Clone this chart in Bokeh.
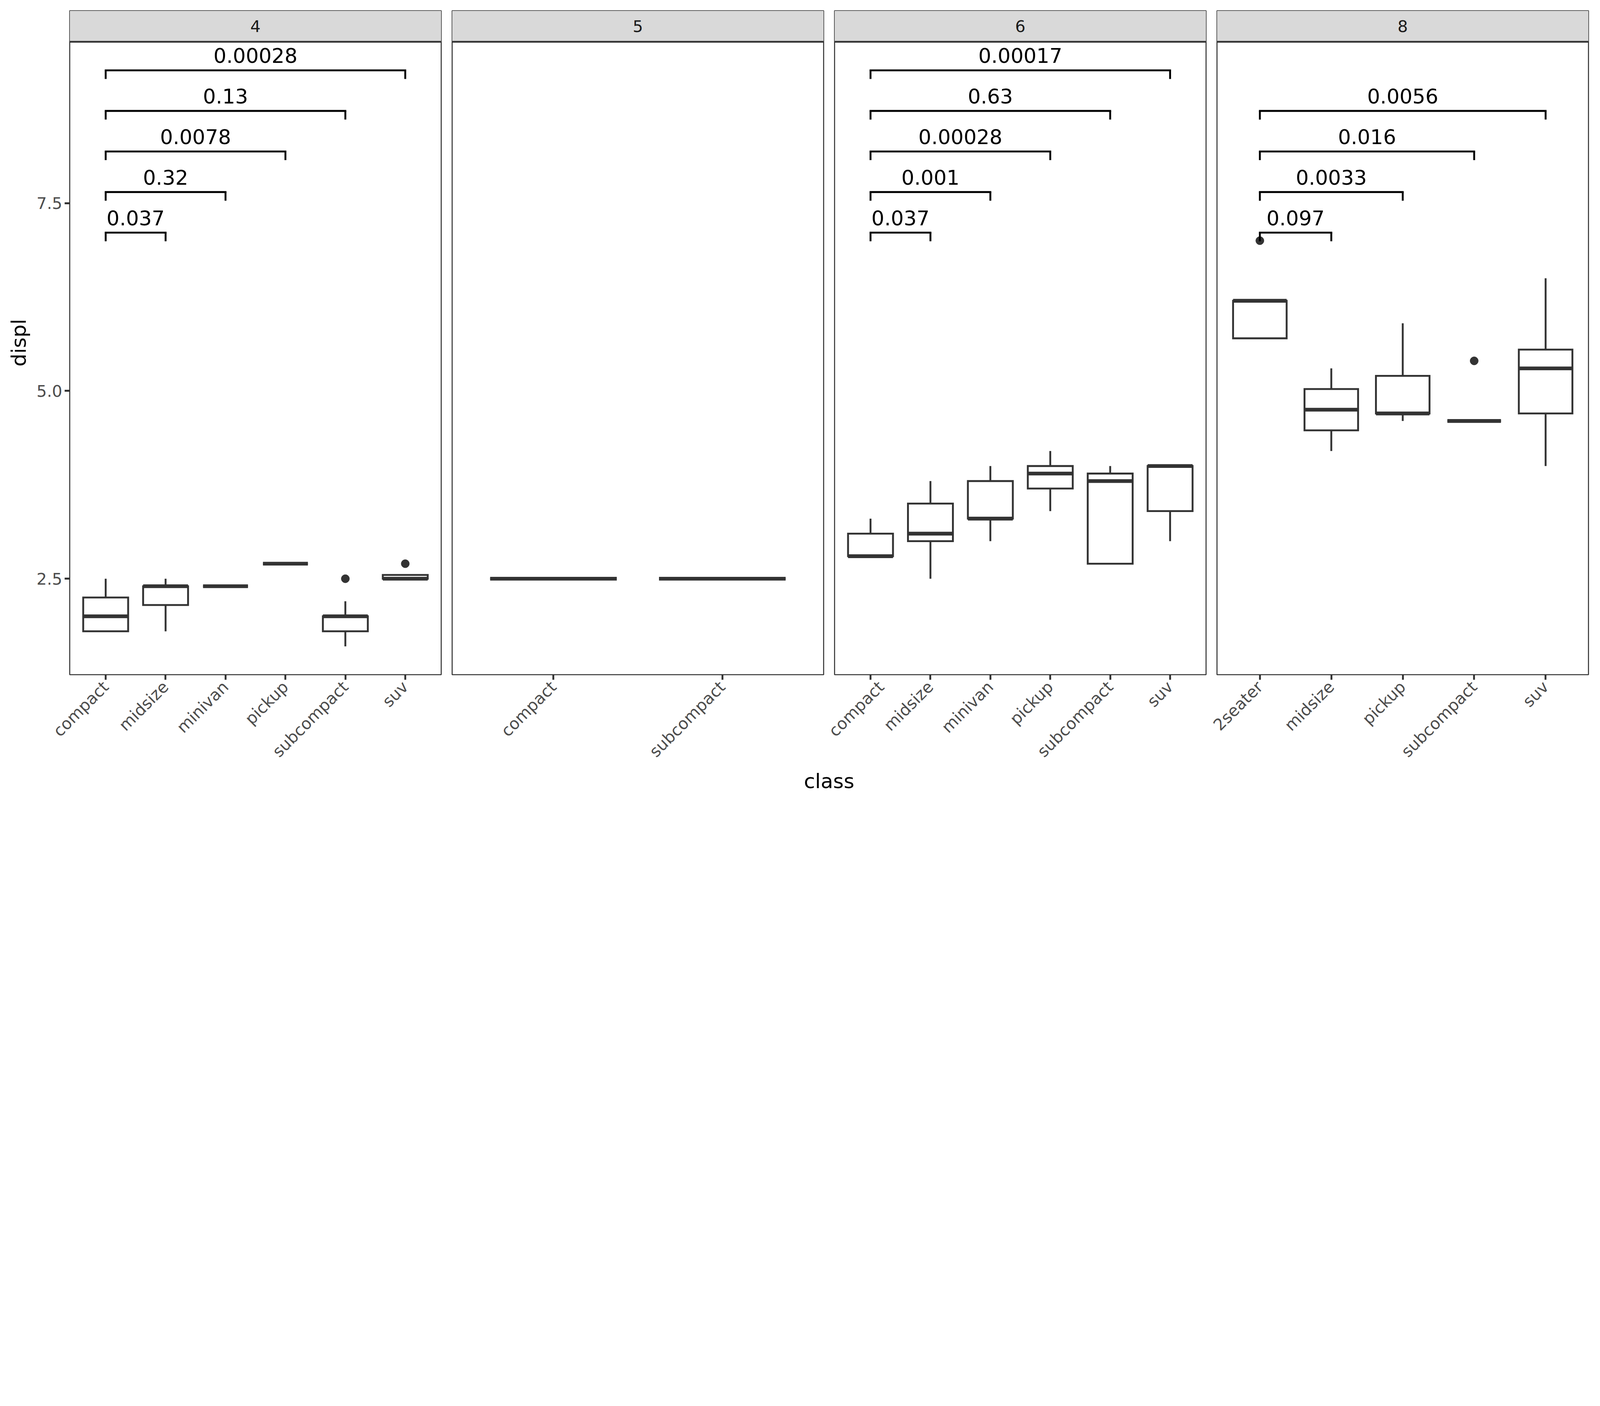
import math
from bokeh.plotting import figure
from bokeh.models import (ColumnDataSource, FactorRange, Range1d, FixedTicker,
                          BoxAnnotation, Span, Label)
from bokeh.layouts import row, column
from bokeh.transform import dodge
from bokeh.core.properties import value
from bokeh.embed import file_html
from bokeh.resources import INLINE

# ---------------- data ----------------
panel_names = ["4", "5", "6", "8"]

classes_4 = ["compact", "midsize", "minivan", "pickup", "subcompact", "suv"]
lower_4 = [1.8, 1.8, 2.4, 2.7, 1.6, 2.5]
q1_4 = [1.8, 2.15, 2.4, 2.7, 1.8, 2.5]
med_4 = [2.0, 2.4, 2.4, 2.7, 2.0, 2.5]
q3_4 = [2.25, 2.4, 2.4, 2.7, 2.0, 2.55]
upper_4 = [2.5, 2.5, 2.4, 2.7, 2.2, 2.55]
out_cls_4 = ["subcompact", "suv"]
out_val_4 = [2.5, 2.7]

classes_5 = ["compact", "subcompact"]
lower_5 = [2.5, 2.5]
q1_5 = [2.5, 2.5]
med_5 = [2.5, 2.5]
q3_5 = [2.5, 2.5]
upper_5 = [2.5, 2.5]
out_cls_5 = []
out_val_5 = []

classes_6 = ["compact", "midsize", "minivan", "pickup", "subcompact", "suv"]
lower_6 = [2.8, 2.5, 3.0, 3.4, 2.7, 3.0]
q1_6 = [2.8, 3.0, 3.3, 3.7, 2.7, 3.4]
med_6 = [2.8, 3.1, 3.3, 3.9, 3.8, 4.0]
q3_6 = [3.1, 3.5, 3.8, 4.0, 3.9, 4.0]
upper_6 = [3.3, 3.8, 4.0, 4.2, 4.0, 4.0]
out_cls_6 = []
out_val_6 = []

classes_8 = ["2seater", "midsize", "pickup", "subcompact", "suv"]
lower_8 = [5.7, 4.2, 4.6, 4.6, 4.0]
q1_8 = [5.7, 4.475, 4.7, 4.6, 4.7]
med_8 = [6.2, 4.75, 4.7, 4.6, 5.3]
q3_8 = [6.2, 5.025, 5.2, 4.6, 5.55]
upper_8 = [6.2, 5.3, 5.9, 4.6, 6.5]
out_cls_8 = ["2seater", "subcompact"]
out_val_8 = [7.0, 5.4]

# significance brackets (reference group vs. others)
ref_4 = "compact"
tgt_4 = ["midsize", "minivan", "pickup", "subcompact", "suv"]
p_4 = ["0.037", "0.32", "0.0078", "0.13", "0.00028"]

ref_6 = "compact"
tgt_6 = ["midsize", "minivan", "pickup", "subcompact", "suv"]
p_6 = ["0.037", "0.001", "0.00028", "0.63", "0.00017"]

ref_8 = "2seater"
tgt_8 = ["midsize", "pickup", "subcompact", "suv"]
p_8 = ["0.097", "0.0033", "0.016", "0.0056"]

bracket_levels = [7.107, 7.647, 8.187, 8.727, 9.267]

y_ticks = [2.5, 5.0, 7.5]
y_tick_labels = ["2.5", "5.0", "7.5"]

# ---------------- styling / layout constants (CSS px) ----------------
FONT = "DejaVu Sans"
DARK = "#333333"
TICK_TXT = "#4D4D4D"
STRIP_FILL = "#D9D9D9"
LW = 4.8
Y_LO, Y_HI = 1.2226, 10.0606
STRIP_Y = 9.647
TIP = 0.115
TXT_OFF = 0.196
FRAME_W = 951
FRAME_H = 1700
LEFT = 178
TOP = 27
BOTTOM = 230
TICK_FS = "41.5px"
TITLE_FS = "52px"

panels = [
    (classes_4, lower_4, q1_4, med_4, q3_4, upper_4, out_cls_4, out_val_4, ref_4, tgt_4, p_4),
    (classes_5, lower_5, q1_5, med_5, q3_5, upper_5, out_cls_5, out_val_5, None, [], []),
    (classes_6, lower_6, q1_6, med_6, q3_6, upper_6, out_cls_6, out_val_6, ref_6, tgt_6, p_6),
    (classes_8, lower_8, q1_8, med_8, q3_8, upper_8, out_cls_8, out_val_8, ref_8, tgt_8, p_8),
]

figs = []
for k, (cls, lo, q1, md, q3, up, ocl, ova, ref, tgts, pv) in enumerate(panels):
    first = (k == 0)
    last = (k == len(panels) - 1)
    n = len(cls)
    xr = FactorRange(factors=cls, range_padding=0.2 / n, range_padding_units="percent")
    p = figure(x_range=xr, y_range=Range1d(Y_LO, Y_HI),
               frame_width=FRAME_W, frame_height=FRAME_H,
               min_border_left=LEFT if first else 25,
               min_border_right=22 if last else 3,
               min_border_top=TOP, min_border_bottom=BOTTOM,
               y_axis_location="left" if first else None,
               toolbar_location=None, output_backend="svg", title=None,
               background_fill_color="white", border_fill_color="white")
    p.outline_line_color = DARK
    p.outline_line_width = 2.6
    p.xgrid.grid_line_color = None
    p.ygrid.grid_line_color = None

    # facet strip
    p.add_layout(BoxAnnotation(bottom=STRIP_Y, fill_color=STRIP_FILL, fill_alpha=1.0,
                               line_color=None, level="underlay"))
    p.add_layout(Span(location=STRIP_Y, dimension="width", line_color=DARK, line_width=4.5))
    p.add_layout(Label(x=n / 2, y=(STRIP_Y + Y_HI) / 2, text=panel_names[k],
                       text_align="center", text_baseline="middle",
                       text_font=FONT, text_font_size=TICK_FS, text_color="#1A1A1A"))

    src = ColumnDataSource(dict(cls=cls, lo=lo, q1=q1, md=md, q3=q3, up=up))
    p.segment(x0="cls", y0="q3", x1="cls", y1="up", source=src, line_color=DARK, line_width=LW)
    p.segment(x0="cls", y0="lo", x1="cls", y1="q1", source=src, line_color=DARK, line_width=LW)
    p.vbar(x="cls", width=0.75, bottom="q1", top="q3", source=src,
           fill_color="white", line_color=DARK, line_width=LW, line_join="miter")
    p.segment(x0=dodge("cls", -0.375, range=xr), x1=dodge("cls", 0.375, range=xr),
              y0="md", y1="md", source=src, line_color=DARK, line_width=2 * LW)
    if ocl:
        p.scatter(x=ocl, y=ova, size=21, color=DARK)

    if ref is not None:
        m = len(tgts)
        lv = bracket_levels[:m]
        bsrc = ColumnDataSource(dict(
            a=[ref] * m, b=tgts, lv=lv, tip=[v - TIP for v in lv],
            xm=[(cls.index(ref) + cls.index(t)) / 2 + 0.5 for t in tgts],
            ty=[v + TXT_OFF for v in lv], lab=pv))
        p.segment(x0="a", x1="b", y0="lv", y1="lv", source=bsrc,
                  line_color="black", line_width=LW, line_cap="square")
        p.segment(x0="a", x1="a", y0="lv", y1="tip", source=bsrc,
                  line_color="black", line_width=LW)
        p.segment(x0="b", x1="b", y0="lv", y1="tip", source=bsrc,
                  line_color="black", line_width=LW)
        p.text(x="xm", y="ty", text="lab", source=bsrc, text_align="center",
               text_baseline="middle", text_font=value(FONT),
               text_font_size=TITLE_FS, text_color="black")

    # x axis
    ax = p.xaxis[0]
    ax.axis_line_color = None
    ax.major_tick_line_color = DARK
    ax.major_tick_line_width = LW
    ax.major_tick_out = 13
    ax.major_tick_in = 0
    ax.minor_tick_line_color = None
    ax.major_label_orientation = math.pi / 4
    ax.major_label_text_font = FONT
    ax.major_label_text_font_size = TICK_FS
    ax.major_label_text_color = TICK_TXT
    ax.major_label_standoff = 11

    if first:
        ay = p.yaxis[0]
        ay.ticker = FixedTicker(ticks=y_ticks)
        ay.major_label_overrides = {t: s for t, s in zip(y_ticks, y_tick_labels)}
        ay.axis_line_color = None
        ay.major_tick_line_color = DARK
        ay.major_tick_line_width = LW
        ay.major_tick_out = 13
        ay.major_tick_in = 0
        ay.minor_tick_line_color = None
        ay.major_label_text_font = FONT
        ay.major_label_text_font_size = TICK_FS
        ay.major_label_text_color = TICK_TXT
        ay.major_label_standoff = 6
        ay.axis_label = "displ"
        ay.axis_label_text_font = FONT
        ay.axis_label_text_font_size = TITLE_FS
        ay.axis_label_text_font_style = "normal"
        ay.axis_label_text_color = "black"
        ay.axis_label_standoff = 13
    figs.append(p)

# bottom strip holding the shared x-axis title
BH = 82
fb = figure(x_range=Range1d(0, 1), y_range=Range1d(0, 1),
            frame_width=3888, frame_height=BH,
            min_border_left=LEFT, min_border_right=22, min_border_top=0, min_border_bottom=0,
            x_axis_location=None, y_axis_location=None,
            toolbar_location=None, output_backend="svg", title=None,
            background_fill_color="white", border_fill_color="white")
fb.outline_line_color = None
fb.xgrid.grid_line_color = None
fb.ygrid.grid_line_color = None
fb.add_layout(Label(x=0.5, y=0.61, text="class", text_align="center",
                    text_baseline="middle", text_font=FONT,
                    text_font_size=TITLE_FS, text_color="black"))

layout = column(row(*figs), fb)
open("out.html", "w").write(file_html(layout, INLINE))
